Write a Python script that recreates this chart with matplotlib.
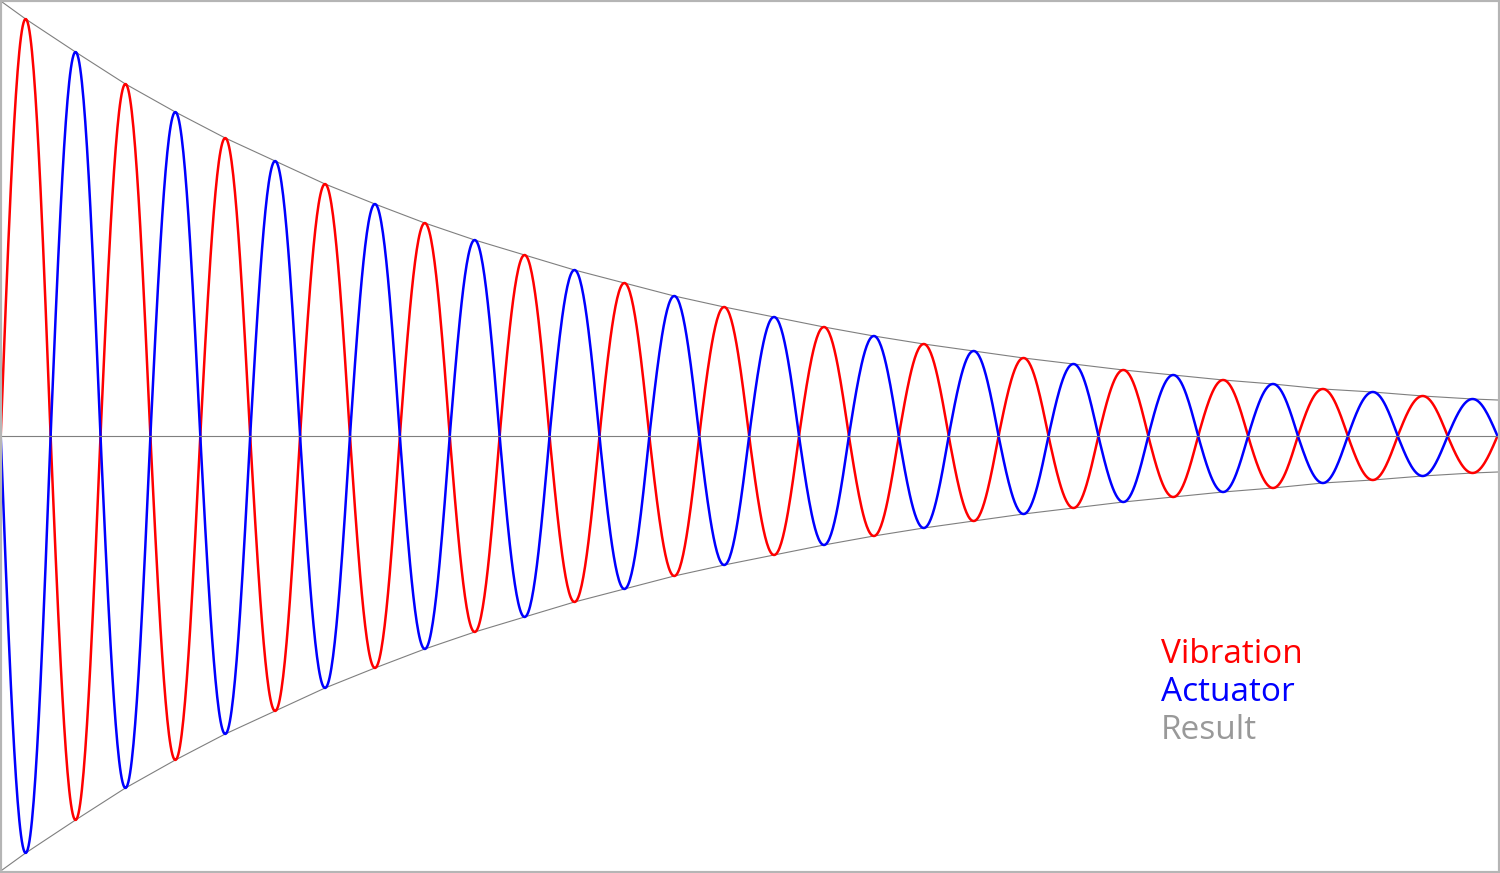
import numpy as np
import matplotlib.pyplot as plt

# peak height of every half-cycle (pixels above centre line)
PEAKS = [417, 384, 352, 324, 298, 275, 252, 232, 213, 196,
         181, 166, 153, 140, 129, 119, 109, 100, 92, 85,
         78, 72, 66, 61, 56, 52, 47, 44, 40, 37]
ENV_START = 435
ENV_END = 36
LABELS = ["Vibration", "Actuator", "Result"]
COLORS = ["#FF0000", "#0000FF", "#999999"]
SAMPLES_PER_LOBE = 60


def main():
    fig = plt.figure(figsize=(15, 8.73), dpi=100)
    ax = fig.add_axes([0, 0, 1, 1])

    n = len(PEAKS)
    xs, vib = [], []
    for k, amp in enumerate(PEAKS):
        t = np.linspace(k, k + 1, SAMPLES_PER_LOBE)
        xs.append(t)
        vib.append(amp * np.sin(np.pi * t))
    xs = np.concatenate(xs)
    vib = np.concatenate(vib)

    # envelope through the peaks
    env_x = np.concatenate([[0], np.arange(n) + 0.5, [n]])
    env_y = np.concatenate([[ENV_START], PEAKS, [ENV_END]])

    grey = "#7F7F7F"
    ax.plot(env_x, env_y, color=grey, lw=0.8)
    ax.plot(env_x, -env_y, color=grey, lw=0.8)
    ax.plot(xs, vib, color=COLORS[0], lw=1.8)
    ax.plot(xs, -vib, color=COLORS[1], lw=1.8)
    ax.plot([0, n], [0, 0], color=grey, lw=0.8)

    ax.set_xlim(-0.014, 30.05)
    ax.set_ylim(-437, 436)
    ax.set_xticks([])
    ax.set_yticks([])
    for side, spine in ax.spines.items():
        spine.set_color("#B5B5B5")
        spine.set_linewidth(3)

    for i, (label, color) in enumerate(zip(LABELS, COLORS)):
        fig.text(1161 / 1500, (873 - 663 - 38 * i) / 873, label, color=color,
                 fontsize=24, family="Open Sans", va="baseline", ha="left")

    fig.savefig("out.png", dpi=100, facecolor="white")


if __name__ == "__main__":
    main()
